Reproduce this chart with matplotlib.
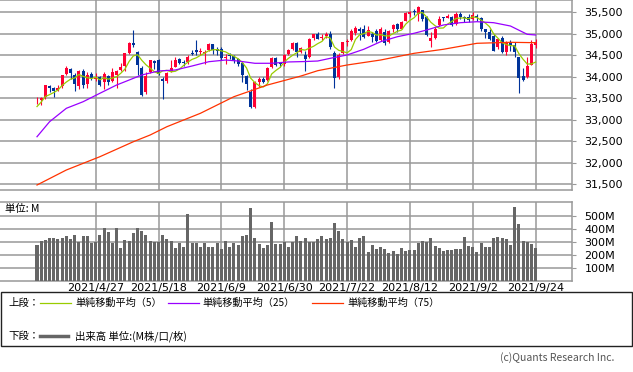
import matplotlib
matplotlib.use("Agg")
import matplotlib.pyplot as plt
import numpy as np
import pandas as pd
from matplotlib.patches import Rectangle
from matplotlib.lines import Line2D

# daily candles 2021/4/7 .. 2021/9/24
opens = [33430, 33450, 33520, 33790, 33740, 33690, 33780, 34060, 34190, 34050,
         33790, 34130, 33830, 34060, 33950, 34000, 33870, 34010, 33900, 34050,
         34160, 34240, 34560, 34790, 34580, 34200, 33640, 34100, 34370, 34380,
         33950, 33900, 34110, 34230, 34420, 34330, 34350, 34560, 34620, 34580,
         34560, 34620, 34760, 34650, 34650, 34440, 34510, 34480, 34420, 34310,
         34030, 33640, 33300, 33880, 33950, 33930, 34230, 34440, 34310, 34300,
         34530, 34650, 34790, 34580, 34500, 34450, 34900, 34990, 34900, 34950,
         35000, 34560, 33990, 34550, 34810, 34850, 35010, 35110, 35100, 34950,
         35000, 35060, 34850, 35050, 34800, 35100, 35220, 35120, 35300, 35450,
         35520, 35460, 35550, 35390, 34830, 34900, 35200, 35380, 35370, 35400,
         35220, 35460, 35400, 35400, 35350, 35420, 35370, 35110, 35050, 34950,
         34700, 34900, 34580, 34800, 34750, 34460, 34030, 34000, 34280, 34740]
highs = [33530, 33520, 33810, 33800, 33760, 33810, 34050, 34260, 34200, 34080,
         34150, 34190, 34100, 34100, 34080, 34010, 34120, 34050, 34210, 34150,
         34330, 34550, 34810, 35091, 34600, 34250, 34100, 34400, 34400, 34420,
         34000, 34120, 34400, 34450, 34440, 34400, 34500, 34620, 34850, 34680,
         34620, 34790, 34770, 34700, 34700, 34520, 34560, 34500, 34440, 34350,
         34050, 33720, 33900, 34000, 34000, 34230, 34450, 34460, 34340, 34520,
         34650, 34800, 34800, 34700, 34600, 34900, 35000, 35050, 35000, 35050,
         35060, 34600, 34560, 34810, 34870, 35100, 35170, 35160, 35200, 35170,
         35050, 35110, 35150, 35100, 35080, 35220, 35250, 35300, 35500, 35530,
         35570, 35640, 35560, 35420, 35050, 35160, 35420, 35400, 35470, 35420,
         35500, 35500, 35420, 35450, 35500, 35450, 35400, 35120, 35100, 35000,
         34900, 34950, 34840, 34850, 34800, 34470, 34200, 34460, 34860, 34880]
lows = [33370, 33345, 33480, 33640, 33540, 33660, 33740, 34040, 33960, 33680,
        33720, 33750, 33740, 33920, 33910, 33790, 33720, 33800, 33880, 33730,
        34140, 34130, 34540, 34700, 34050, 33560, 33600, 34080, 34180, 34040,
        33473, 33850, 34100, 34220, 34290, 34250, 34300, 34500, 34500, 34500,
        34300, 34600, 34540, 34500, 34400, 34300, 34420, 34320, 34250, 33880,
        33700, 33271, 33270, 33770, 33850, 33900, 34200, 34250, 34230, 34250,
        34500, 34620, 34450, 34550, 34145, 34440, 34850, 34870, 34850, 34900,
        34650, 33741, 33950, 34520, 34720, 34840, 34980, 34850, 34900, 34940,
        34800, 34800, 34830, 34750, 34780, 35050, 35050, 35100, 35290, 35400,
        35440, 35300, 35300, 34940, 34690, 34880, 35190, 35300, 35360, 35180,
        35200, 35350, 35280, 35280, 35330, 35300, 35060, 34900, 34850, 34600,
        34650, 34550, 34500, 34600, 34450, 33613, 33900, 33980, 34270, 34670]
closes = [33446, 33503, 33801, 33746, 33677, 33730, 34036, 34201, 34078, 33821,
          34137, 33815, 34043, 33981, 33985, 33820, 34060, 33875, 34113, 34133,
          34230, 34548, 34778, 34743, 34270, 33587, 34022, 34382, 34328, 34061,
          33896, 34084, 34208, 34394, 34313, 34323, 34465, 34529, 34575, 34600,
          34577, 34756, 34630, 34600, 34448, 34467, 34480, 34394, 34300, 34033,
          33823, 33290, 33877, 33946, 33874, 34196, 34433, 34284, 34292, 34503,
          34633, 34786, 34577, 34681, 34422, 34870, 34996, 34889, 34933, 34987,
          34688, 33962, 34512, 34798, 34823, 35062, 35144, 35059, 34931, 35085,
          34935, 34838, 35117, 34793, 35065, 35209, 35102, 35265, 35485, 35500,
          35516, 35626, 35343, 34961, 34894, 35120, 35336, 35367, 35406, 35214,
          35456, 35400, 35361, 35313, 35444, 35369, 35100, 35032, 34879, 34608,
          34870, 34578, 34814, 34751, 34585, 33970, 33920, 34258, 34765, 34798]
prior_closes = [32982, 33153, 33527, 33430]

volume = [276, 307, 315, 333, 333, 320, 328, 346, 320, 354,
          296, 346, 346, 289, 302, 354, 405, 379, 294, 405,
          255, 315, 307, 366, 405, 384, 354, 307, 302, 302,
          354, 323, 307, 255, 289, 263, 514, 289, 289, 258,
          294, 263, 263, 289, 245, 307, 258, 294, 276, 346,
          354, 565, 328, 281, 255, 276, 457, 284, 284, 302,
          263, 302, 346, 307, 328, 302, 302, 322, 346, 322,
          333, 444, 384, 322, 296, 315, 263, 333, 346, 224,
          276, 245, 258, 245, 211, 229, 206, 255, 232, 237,
          237, 294, 307, 296, 333, 271, 255, 232, 237, 237,
          245, 245, 340, 268, 263, 224, 294, 263, 263, 333,
          340, 333, 325, 276, 570, 438, 307, 296, 284, 255]

ma25_idx = [0, 3, 7, 11, 15, 19, 21, 25, 29, 33, 37, 41, 45, 48, 52, 56, 60,
            64, 67, 70, 74, 78, 82, 86, 90, 93, 97, 101, 105, 109, 113, 117, 119]
ma25_val = [32606, 32955, 33267, 33420, 33616, 33809, 33886, 34042, 34135, 34158,
            34251, 34351, 34390, 34367, 34314, 34314, 34345, 34355, 34367, 34430,
            34507, 34640, 34816, 34932, 35012, 35088, 35205, 35258, 35281, 35258,
            35181, 34988, 34972]
ma75_idx = [0, 7, 15, 23, 27, 31, 39, 47, 55, 63, 67, 74, 82, 90, 97, 105, 113, 119]
ma75_val = [31483, 31832, 32141, 32490, 32646, 32839, 33151, 33537, 33809, 34018,
            34142, 34274, 34390, 34546, 34640, 34779, 34802, 34793]

date_idx = [14, 29, 44, 59, 74, 89, 104, 119]
date_labels = ["2021/4/27", "2021/5/18", "2021/6/9", "2021/6/30",
               "2021/7/22", "2021/8/12", "2021/9/2", "2021/9/24"]
price_ticks = [31500, 32000, 32500, 33000, 33500, 34000, 34500, 35000, 35500]
price_labels = ["31,500", "32,000", "32,500", "33,000", "33,500",
                "34,000", "34,500", "35,000", "35,500"]
vol_ticks = [100, 200, 300, 400, 500]
vol_labels = ["100M", "200M", "300M", "400M", "500M"]

RED = "#ff0033"
BLUE = "#003399"
GRID = "#999999"
W, H = 633, 372

fig = plt.figure(figsize=(W / 100, H / 100), dpi=100)


def rect(l, t, r, b):
    return [l / W, 1 - b / H, (r - l) / W, (b - t) / H]


ax = fig.add_axes(rect(0, 0, 572, 190))
axv = fig.add_axes(rect(0, 201.7, 572, 280.6))

o = np.array(opens, float)
h = np.array(highs, float)
l = np.array(lows, float)
c = np.array(closes, float)
x = np.arange(len(c))
cols = np.where(c >= o, RED, BLUE)

ax.vlines(x, l, h, colors=cols, lw=0.8, zorder=3)
ax.bar(x, np.maximum(np.abs(c - o), 15), bottom=np.minimum(o, c), width=0.72,
       color=cols, lw=0, zorder=3)

ma5 = pd.Series(prior_closes + closes).rolling(5).mean().to_numpy()[len(prior_closes):]
ax.plot(x, ma5, color="#99cc00", lw=0.9, zorder=4)
ax.plot(ma25_idx, ma25_val, color="#9900ff", lw=0.9, zorder=4)
ax.plot(ma75_idx, ma75_val, color="#ff3300", lw=0.9, zorder=4)

xlim = (-37 / 4.19, (572 - 37) / 4.19)
for a in (ax, axv):
    a.set_xlim(*xlim)
    a.set_xticks(date_idx)
    a.grid(True, color=GRID, lw=1.1, zorder=0)
    a.set_axisbelow(True)
    a.yaxis.tick_right()
    a.tick_params(axis="y", length=3, color=GRID, pad=6, labelsize=8)
    a.tick_params(axis="x", length=0)
    for s in a.spines.values():
        s.set_color(GRID)
        s.set_linewidth(1.1)
    a.spines["left"].set_visible(False)

ax.set_ylim(31367, 35786)
ax.set_yticks(price_ticks)
ax.set_yticklabels(price_labels)
ax.set_xticklabels([])

axv.bar(x, volume, width=0.72, color="#666666", lw=0, zorder=3)
axv.set_ylim(0, 611.6)
axv.set_yticks(vol_ticks)
axv.set_yticklabels(vol_labels)
axv.set_xticklabels(date_labels, fontsize=8)
axv.tick_params(axis="x", pad=2)

jp = ["Noto Sans CJK JP", "DejaVu Sans"]


def fx(px):
    return px / W


def fy(py):
    return 1 - py / H


fig.text(fx(5), fy(209), "単位: M", family=jp, fontsize=7.5, va="center")

fig.patches.append(Rectangle((fx(1), fy(346)), fx(631), (346 - 292) / H,
                             transform=fig.transFigure, fill=False,
                             edgecolor="#222222", lw=1))
row1, row2 = 303, 336
fig.text(fx(8), fy(row1), "上段：", family=jp, fontsize=7.5, va="center")
fig.text(fx(8), fy(row2), "下段：", family=jp, fontsize=7.5, va="center")
legend_items = [(40, 71, 75, "#99cc00", "単純移動平均（5）"),
                (168, 199, 202, "#9900ff", "単純移動平均（25）"),
                (312, 343, 347, "#ff3300", "単純移動平均（75）")]
for x0, x1, tx, col, lab in legend_items:
    fig.lines.append(Line2D([fx(x0), fx(x1)], [fy(row1), fy(row1)],
                            transform=fig.transFigure, color=col, lw=0.9))
    fig.text(fx(tx), fy(row1), lab, family=jp, fontsize=7.3, va="center")
fig.lines.append(Line2D([fx(40), fx(68)], [fy(row2), fy(row2)],
                        transform=fig.transFigure, color="#666666", lw=2.5))
fig.text(fx(75), fy(row2), "出来高 単位:(M株/口/枚)", family=jp, fontsize=7.5, va="center")

fig.text(fx(614), fy(358), "(c)Quants Research Inc.", family=jp, fontsize=7.5,
         color="#555555", ha="right", va="center")

fig.savefig("out.png", dpi=100)
